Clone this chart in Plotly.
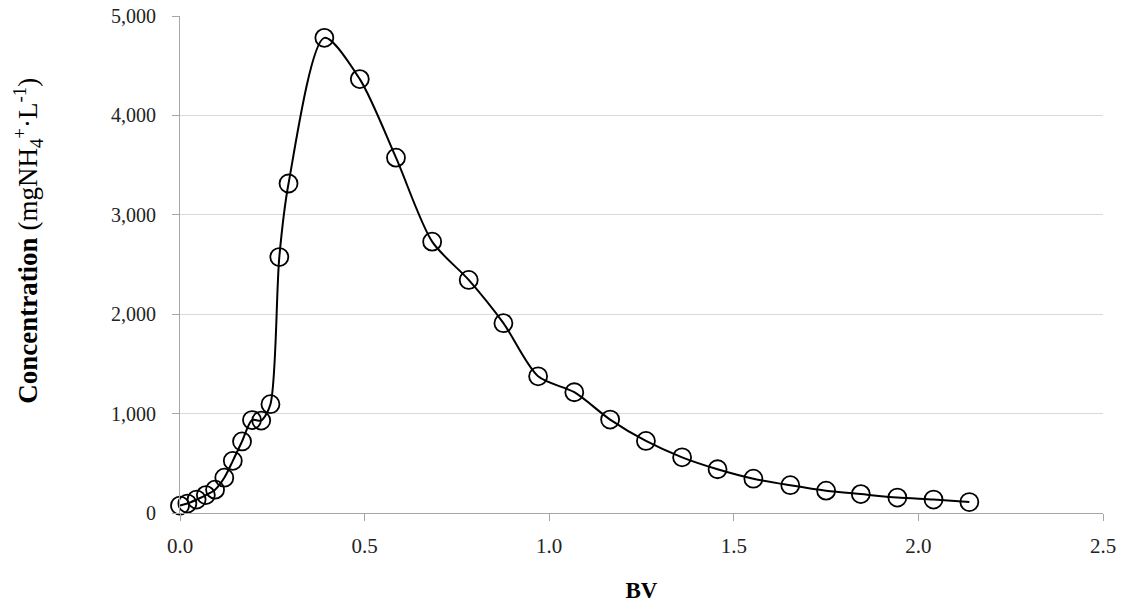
import plotly.graph_objects as go

# Bed volumes passed through the column
bv = [0.0, 0.02, 0.045, 0.07, 0.095, 0.12, 0.143, 0.168, 0.195, 0.22, 0.245, 0.269, 0.294,
      0.391, 0.487, 0.585, 0.683, 0.782, 0.876, 0.970, 1.068, 1.165, 1.262, 1.360,
      1.456, 1.553, 1.653, 1.750, 1.844, 1.943, 2.041, 2.138]

# Ammonium concentration in the eluate (mg NH4+ per litre)
conc = [75, 95, 135, 180, 235, 355, 525, 720, 935, 930, 1095, 2575, 3315,
        4780, 4365, 3575, 2730, 2345, 1910, 1375, 1215, 940, 725, 560,
        440, 345, 280, 225, 190, 155, 135, 110]

x_ticks = [0.0, 0.5, 1.0, 1.5, 2.0, 2.5]
x_tick_text = ["0.0", "0.5", "1.0", "1.5", "2.0", "2.5"]
y_ticks = [0, 1000, 2000, 3000, 4000, 5000]
y_tick_text = ["0", "1,000", "2,000", "3,000", "4,000", "5,000"]

serif = "Liberation Serif, Times New Roman, serif"

fig = go.Figure()
fig.add_trace(go.Scatter(
    x=bv, y=conc,
    mode="lines+markers",
    line=dict(color="black", width=2, shape="spline", smoothing=0.8),
    marker=dict(symbol="circle-open", size=18, color="black",
                line=dict(color="black", width=1.8)),
    showlegend=False,
    cliponaxis=False,
))

fig.update_layout(
    width=1132, height=607,
    margin=dict(l=180, r=29, t=16, b=94),
    paper_bgcolor="white", plot_bgcolor="white",
    font=dict(family=serif, size=20, color="#222222"),
)

fig.update_xaxes(
    range=[0, 2.5],
    tickvals=x_ticks, ticktext=x_tick_text,
    showgrid=False, zeroline=False, automargin=False,
    showline=True, linecolor="#a6a6a6", linewidth=1.2,
    ticks="outside", ticklen=7, tickcolor="#a6a6a6", tickwidth=1.2,
    ticklabelstandoff=7,
    tickfont=dict(family=serif, size=21, color="#222222"),
    title=dict(text="<b>BV</b>", font=dict(family=serif, size=23, color="black"), standoff=24),
)

fig.update_yaxes(
    range=[0, 5000],
    tickvals=y_ticks, ticktext=y_tick_text,
    showgrid=True, gridcolor="#d9d9d9", gridwidth=1.2,
    zeroline=False, automargin=False,
    showline=True, linecolor="#a6a6a6", linewidth=1.2,
    ticks="outside", ticklen=7, tickcolor="#a6a6a6", tickwidth=1.2,
    ticklabelstandoff=12,
    tickfont=dict(family=serif, size=20, color="#222222"),
)

# Vertical axis title, set slightly above the axis centre
fig.add_annotation(
    text="<b>Concentration</b> (mgNH<sub>4</sub><sup>+</sup>·L<sup>-1</sup>)",
    xref="paper", yref="paper", x=-0.165, y=0.547,
    xanchor="center", yanchor="middle", textangle=-90, showarrow=False,
    font=dict(family=serif, size=27, color="black"),
)

fig.write_html("out.html")
